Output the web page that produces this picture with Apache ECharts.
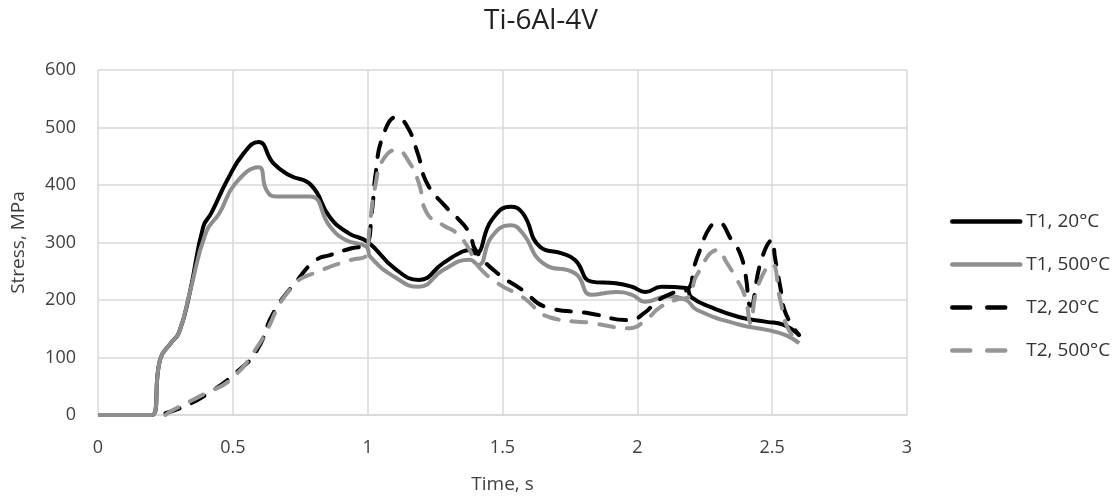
<!DOCTYPE html>
<html>
<head>
<meta charset="utf-8">
<title>Ti-6Al-4V</title>
<script src="https://cdn.jsdelivr.net/npm/echarts@6/dist/echarts.min.js"></script>
<style>
    html, body { margin: 0; padding: 0; background: #fff; }
    #chart { width: 1118px; height: 503px; }
</style>
</head>
<body>
<div id="chart"></div>
<script>
// time points (s) and stress (MPa)
var t1Time = [0, 0.2, 0.23, 0.27, 0.30, 0.34, 0.39, 0.42, 0.48, 0.54, 0.595, 0.65, 0.71, 0.79, 0.86, 0.93, 1.0,
    1.1, 1.19, 1.28, 1.35, 1.38, 1.40, 1.46, 1.53, 1.575, 1.64, 1.72, 1.77, 1.83, 1.92, 1.98, 2.03, 2.09, 2.18,
    2.20, 2.27, 2.38, 2.48, 2.54, 2.6];
var t1Cold = [0, 0, 96, 125, 143, 212, 327, 351, 409, 455, 475, 438, 417, 400, 344, 316, 301,
    255, 235, 264, 284, 287, 281, 339, 362, 351, 292, 281, 269, 232, 229, 223, 214, 223, 221,
    205, 188, 170, 162, 157, 139];

var t1HotTime = [0, 0.2, 0.23, 0.27, 0.30, 0.34, 0.40, 0.45, 0.51, 0.595, 0.625, 0.66, 0.785, 0.86, 0.92, 0.995,
    1.01, 1.1, 1.19, 1.28, 1.378, 1.41, 1.46, 1.53, 1.575, 1.65, 1.77, 1.83, 1.92, 1.98, 2.03, 2.11, 2.18, 2.22,
    2.38, 2.48, 2.55, 2.6];
var t1Hot = [0, 0, 96, 125, 143, 212, 317, 351, 403, 431, 391, 380, 380, 328, 304, 293,
    275, 240, 223, 252, 270, 261, 310, 330, 316, 264, 246, 209, 214, 209, 197, 206, 200, 183,
    157, 148, 139, 125];

var t2Time = [0.25, 0.315, 0.40, 0.515, 0.59, 0.65, 0.74, 0.81, 0.86, 0.94, 0.995, 1.015, 1.03, 1.056, 1.107,
    1.144, 1.185, 1.22, 1.29, 1.33, 1.378, 1.40, 1.48, 1.575, 1.66, 1.82, 1.97, 2.03, 2.07, 2.13, 2.19, 2.21,
    2.23, 2.27, 2.30, 2.35, 2.38, 2.40, 2.42, 2.46, 2.50, 2.51, 2.53, 2.55, 2.6];
var t2Cold = [3, 14, 35, 75, 113, 177, 235, 270, 278, 290, 296, 351, 421, 484, 518,
    504, 456, 403, 362, 344, 316, 287, 247, 217, 188, 177, 165, 179, 197, 212, 220, 257,
    284, 327, 334, 304, 282, 247, 190, 270, 304, 275, 223, 177, 139];

var t2HotTime = [0.25, 0.28, 0.40, 0.49, 0.59, 0.72, 0.83, 0.94, 0.995, 1.007, 1.03, 1.056, 1.107, 1.156, 1.19,
    1.22, 1.28, 1.33, 1.378, 1.40, 1.48, 1.575, 1.675, 1.83, 1.97, 2.04, 2.08, 2.14, 2.19, 2.22, 2.30, 2.33,
    2.37, 2.40, 2.42, 2.44, 2.48, 2.50, 2.53, 2.556, 2.6];
var t2Hot = [0, 9, 38, 61, 118, 223, 252, 270, 278, 327, 403, 443, 461, 438, 403,
    351, 330, 316, 287, 264, 230, 205, 170, 160, 151, 169, 186, 200, 205, 243, 287, 266,
    235, 205, 160, 212, 257, 262, 200, 153, 125];

var seriesNames = ['T1, 20°C', 'T1, 500°C', 'T2, 20°C', 'T2, 500°C'];

var chartMgr = {

    pairs: function (xs, ys) {
        var out = [];
        for (var i = 0; i < xs.length; i++) {
            out.push([xs[i], ys[i]]);
        }
        return out;
    },

    makeLine: function (name, xs, ys, color, dashed) {
        return {
            name: name,
            type: 'line',
            data: chartMgr.pairs(xs, ys),
            smooth: 0.5,
            symbol: 'none',
            color: color,
            lineStyle: {
                color: color,
                width: 4,
                type: dashed ? [15, 13] : 'solid',
                cap: dashed ? 'round' : 'butt',
                join: 'round'
            }
        };
    },

    // legend entries: dashed ones get the longer Excel-like dash (two dashes in the key)
    legendItems: function () {
        return seriesNames.map(function (name, i) {
            var item = { name: name, lineStyle: { width: 4.5, cap: 'round' } };
            if (i >= 2) {
                item.lineStyle.type = [18, 17];
            }
            return item;
        });
    },

    init: function () {
        var myChart = echarts.init(document.getElementById('chart'));
        var font = '"Open Sans", "Noto Sans", sans-serif';

        var option = {
            backgroundColor: '#fff',
            animation: false,
            textStyle: { fontFamily: font },
            title: {
                text: 'Ti-6Al-4V',
                left: 479,
                top: 2,
                textStyle: {
                    color: '#222',
                    fontSize: 28,
                    fontWeight: 'normal',
                    fontFamily: font
                }
            },
            legend: {
                orient: 'vertical',
                left: 945,
                top: 207,
                itemWidth: 68,
                itemHeight: 14,
                itemGap: 24,
                // hide the marker circle so only the line shows, as in Excel
                itemStyle: { color: 'rgba(0,0,0,0)', borderWidth: 0, opacity: 0 },
                textStyle: {
                    color: '#333',
                    fontSize: 19,
                    fontFamily: font,
                    padding: [0, 0, 0, 1]
                },
                data: chartMgr.legendItems()
            },
            grid: {
                left: 98,
                right: 211,
                top: 70,
                bottom: 88
            },
            xAxis: {
                type: 'value',
                min: 0,
                max: 3,
                interval: 0.5,
                name: 'Time, s',
                nameLocation: 'middle',
                nameGap: 60,
                nameTextStyle: { color: '#404040', fontSize: 19, fontFamily: font },
                axisLine: { show: true, lineStyle: { color: '#d9d9d9', width: 1.5 } },
                axisTick: { show: false },
                axisLabel: { color: '#404040', fontSize: 18, margin: 24, fontFamily: font },
                splitLine: { show: true, lineStyle: { color: '#d9d9d9', width: 1.5 } }
            },
            yAxis: {
                type: 'value',
                min: 0,
                max: 600,
                interval: 100,
                name: 'Stress, MPa',
                nameLocation: 'middle',
                nameGap: 70,
                nameTextStyle: { color: '#404040', fontSize: 19, fontFamily: font },
                axisLine: { show: false },
                axisTick: { show: false },
                axisLabel: { color: '#404040', fontSize: 18, margin: 22, fontFamily: font },
                splitLine: { show: true, lineStyle: { color: '#d9d9d9', width: 1.5 } }
            },
            series: [
                chartMgr.makeLine(seriesNames[0], t1Time, t1Cold, '#000000', false),
                chartMgr.makeLine(seriesNames[1], t1HotTime, t1Hot, '#8e8e8e', false),
                chartMgr.makeLine(seriesNames[2], t2Time, t2Cold, '#000000', true),
                chartMgr.makeLine(seriesNames[3], t2HotTime, t2Hot, '#969696', true)
            ]
        };

        myChart.setOption(option);
    }
};

chartMgr.init();
</script>
</body>
</html>
